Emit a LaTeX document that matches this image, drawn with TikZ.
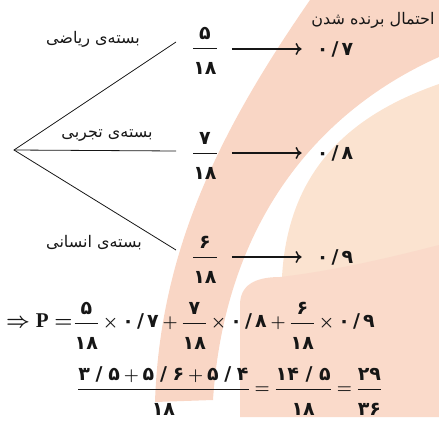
\documentclass[tikz,border=0pt]{standalone}
\usepackage{amsmath}
\usepackage{bm}
\usepackage{fontspec}
\setmainfont{Liberation Serif}
\newfontfamily\fa[Script=Arabic]{DejaVu Sans}
\TeXXeTstate=1
\usetikzlibrary{arrows.meta}
\definecolor{ink}{HTML}{161616}
\definecolor{bandfill}{HTML}{F9D6C5}
\definecolor{lobefill}{HTML}{FADACA}
\definecolor{corefill}{HTML}{FBE3D0}
\newcommand{\wordsize}{\fontsize{16}{18}\selectfont}
\newcommand{\numsize}{\fontsize{19}{21}\selectfont}
\newcommand{\bigsize}{\fontsize{21}{23}\selectfont}
\newcommand{\fd}[1]{\text{\fa\bfseries #1}}
\newcommand{\frc}[2]{\dfrac{\fd{#1}\rule[-6pt]{0pt}{6pt}}{\rule{0pt}{24pt}\fd{#2}}}
\newcommand{\pslash}{\hspace{.3em}/\hspace{.3em}}
\newcommand{\eqone}{{\bigsize$\bm{\Rightarrow}\textbf{P}\bm{=}$}\hspace{1pt}$\frc{۵}{۱۸}\bm{\times}\fd{۰\,/\,۷}\bm{+}\frc{۷}{۱۸}\bm{\times}\fd{۰\,/\,۸}\bm{+}\frc{۶}{۱۸}\bm{\times}\fd{۰\,/\,۹}$}
\newcommand{\eqtwo}{$\dfrac{\fd{۳\pslash۵}\bm{+}\fd{۵\pslash۶}\bm{+}\fd{۵\pslash۴}\rule[-6pt]{0pt}{6pt}}{\rule{0pt}{24pt}\fd{۱۸}}\bm{=}\frc{۱۴\hspace{.35em}/\hspace{.35em}۵}{۱۸}\bm{=}\frc{۲۹}{۳۶}$}
\tikzset{
 every node/.append style={text=ink,inner sep=1pt},
 pack/.style={font=\fa\wordsize},
 frac/.style={font=\numsize},
 prob/.style={font=\fa\bfseries\numsize},
 eqn/.style={font=\numsize,anchor=west},
 flow/.style={-{Computer Modern Rightarrow[length=6pt,width=12pt]},draw=ink,line width=1.5pt},
 branch/.style={draw=ink,line width=.8pt},
}

\begin{document}
\begin{tikzpicture}[x=1pt,y=-1pt]
\useasboundingbox (0,0) rectangle (439,422);

% faint logo in the background
\fill[bandfill] (310,0) -- (439,0) -- (439,57)
  .. controls (320,110) and (225,220) .. (213,400)
  -- (155,402)
  .. controls (160,250) and (220,130) .. (310,0) -- cycle;
\fill[corefill] (439,84) .. controls (350,115) and (288,170) .. (282,277)
  -- (282,300) -- (439,300) -- cycle;
\fill[lobefill] (240,417) -- (240,305) .. controls (240,285) and (255,277) .. (280,277)
  .. controls (340,270) and (400,255) .. (439,245) -- (439,417) -- cycle;

\node[pack] (title) at (373,20) {\beginR احتمال برنده شدن\endR};

% tree
\coordinate (root) at (14,150);
\coordinate (end1) at (176,42);
\coordinate (end2) at (176,151);
\coordinate (end3) at (176,250);
\draw[branch] (end1) -- (root) -- (end3);
\draw[branch] (root) -- (end2);

\node[pack] (math) at (93,39) {\beginR بسته‌ی ریاضی\endR};
\node[pack] (exp) at (107,136) {\beginR بسته‌ی تجربی\endR};
\node[pack] (hum) at (94,243) {\beginR بسته‌ی انسانی\endR};

\node[frac] (f1) at (205,51) {$\frc{۵}{۱۸}$};
\node[frac] (f2) at (205,156) {$\frc{۷}{۱۸}$};
\node[frac] (f3) at (205,260) {$\frc{۶}{۱۸}$};

\node[prob] (p1) at (335,49) {۰\,/\,۷};
\node[prob] (p2) at (335,153) {۰\,/\,۸};
\node[prob] (p3) at (335,257) {۰\,/\,۹};

\draw[flow,shorten <=13pt,shorten >=14pt] (f1.east |- p1.west) -- (p1.west);
\draw[flow,shorten <=13pt,shorten >=14pt] (f2.east |- p2.west) -- (p2.west);
\draw[flow,shorten <=13pt,shorten >=14pt] (f3.east |- p3.west) -- (p3.west);

% total probability
\node[eqn] (total1) at (5,326) {\eqone};
\node[eqn] (total2) at (76,391) {\eqtwo};
\end{tikzpicture}
\end{document}
